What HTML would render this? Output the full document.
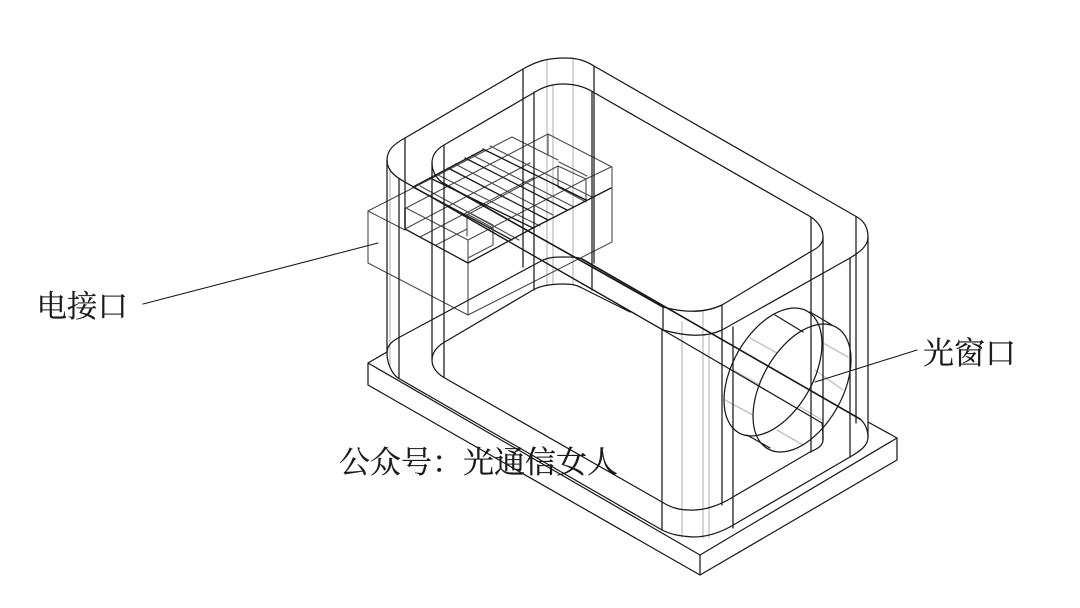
<!DOCTYPE html>
<html><head><meta charset="utf-8"><style>
html,body{margin:0;padding:0;background:#fff;width:1080px;height:608px;overflow:hidden}
svg{display:block;position:absolute;left:0;top:0}
text{font-family:"Noto Serif CJK SC","Noto Serif CJK JP",serif;fill:#1a1a1a;stroke:#1a1a1a;stroke-width:.2}
</style></head><body>
<svg width="1080" height="608" viewBox="0 0 1080 608" fill="none" stroke-linecap="round" stroke-linejoin="round">
<rect width="1080" height="608" fill="#fff" stroke="none"/>
<!-- light verticals -->
<g stroke="#c0c0c0" stroke-width="1.3">
<path d="M390 170V365M547 60V285M553 86V285M573 58V285M682 322V537M703 312V538M709 335V538"/>
<path d="M750 338L777 353M823 343L848 357M733 370L760 385M815 370L843 390M725 400L753 415M800 407L822 420M777 430L803 445"/>
</g>
<!-- block, grey lines -->
<g stroke="#4a4a4a" stroke-width="1.1">
<path d="M368 211V263L468 315L612 242V167L548 134L406 208L468 240L493 227V245L468 258"/>
<path d="M368 211L512 137L548 155L558 160M368 211L405 230"/>
<path d="M548 134V155M468 240V315M405 208V230"/>
<path d="M467 215V236M467 214L493 228M470 213L493 225"/>
<path d="M558 166V187L586 200V179L558 166M586 179L611 167M558 187L586 202M559 162L587 176"/>
<path d="M405 229L530 163M420 237L533 178M436 245L467 229M467 215L558 166M493 227L586 179"/>
<path d="M420 186L519 240M438 175L540 226M455 164L553 215M472 155L574 207M490 146L592 197"/>
</g>
<!-- block, dark pads -->
<g stroke="#1a1a1a" stroke-width="1.3">
<path d="M405 229L468 263L533 228L611 188M413 187L483 150M405 229V208"/>
<path d="M413 187L512 240M430 178L533 228M448 168L548 220M465 158L567 210M483 149L586 200"/>
</g>
<!-- shell -->
<g stroke="#1a1a1a" stroke-width="1.25">
<!-- outer top rim -->
<path d="M412 186C397 178 387 172 387 160C387 150 394 144 405 138L523 69C537 61 548 58 565 58C578 58 586 61 594 66L857 217C864 221 868 228 868 237C868 246 860 252 850 258L722 330C705 338 685 336 663 330Z"/>
<!-- inner top rim -->
<path d="M443 183C437 179 432 172 432 163C432 155 437 149 444 145L535 92C543 87 552 84 563 84C575 84 585 87 593 92L811 217C818 222 823 228 823 237C823 244 818 248 810 252L722 305C705 313 685 313 663 307Z"/>
<path d="M412 186L663 330L822 423C823 430 823 432 823 440C823 446 817 449 810 452L733 497C722 504 705 511 690 510C678 510 670 507 662 502L443 377C437 373 432 368 432 360C432 352 437 347 443 343L533 290C540 286 550 284 563 284C572 284 577 285 582 288L630 312"/>
<!-- outer bottom rim -->
<path d="M387 353C387 346 391 342 398 338L543 260C550 257 556 257 563 257C572 257 578 257 582 259L860 419C865 423 868 430 868 437C868 446 860 451 850 457L735 524C722 532 708 537 693 537C680 536 672 535 662 530L398 378C391 373 387 362 387 353Z"/>
<path d="M443 183L663 307" stroke-width="1.6"/>
<path d="M582 259L860 419" stroke-width="1.6"/>
<!-- verticals -->
<path d="M387 160V353M399 179V378M405 138V228M432 163V360M444 145V377M523 69V267M534 92V290M592 92V290M594 66V263"/>
<path d="M662 330V530M663 307V330M722 305V333M722 333V505M733 327V528M811 217V452M823 237V440M850 258V457M856 217V423M868 237V437"/>
<!-- base -->
<path d="M387 352L368 363V385L700 575L897 460V438L868 422M368 363L700 555L897 438M700 555V575"/>
<!-- cylinder -->
<g transform="matrix(0 57.4 49 -28.25 773 372)"><circle r="1" vector-effect="non-scaling-stroke"/></g>
<g transform="matrix(0 57.4 49 -28.25 802 388)"><circle r="1" vector-effect="non-scaling-stroke"/></g>
<path d="M775 315L803 332M810 312L832 325M747 435L770 448"/>
<!-- leaders -->
<path d="M143 304L378 243M815 382L917 350" stroke-width="1.1"/>
</g>
<text x="36.5" y="317" font-size="30.5">电接口</text>
<text x="923" y="364" font-size="31">光窗口</text>
<text x="339" y="473" font-size="31">公众号：光通信女人</text>
</svg>
</body></html>
